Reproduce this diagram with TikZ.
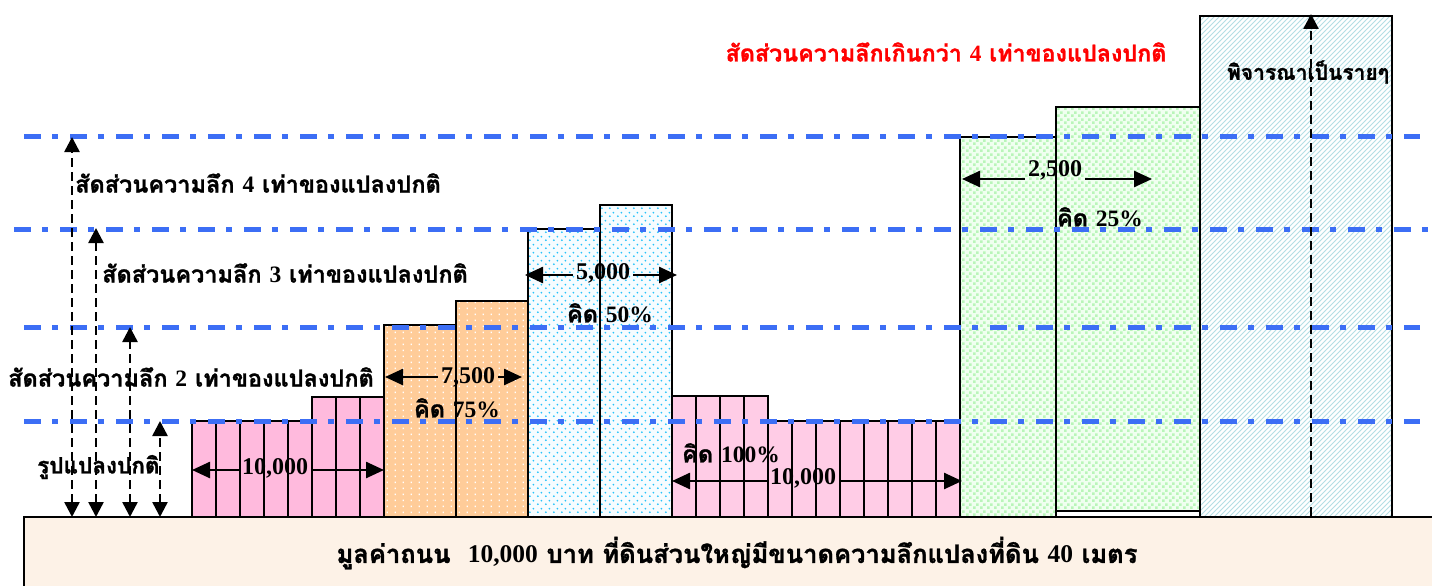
\documentclass[tikz,border=0pt]{standalone}
\usepackage{fontspec}
\setmainfont{Liberation Serif}
\newfontfamily\thaif[Script=Thai,BoldFeatures={FakeBold=1.2}]{Loma}
\usetikzlibrary{arrows.meta,patterns}
\definecolor{roadC}{RGB}{253,242,231}
\definecolor{pinkA}{RGB}{255,186,221}
\definecolor{pinkB}{RGB}{255,204,230}
\definecolor{orangeC}{RGB}{255,204,153}
\definecolor{cyanDot}{RGB}{40,195,250}
\definecolor{blueBg}{RGB}{246,252,255}
\definecolor{greenBg}{RGB}{240,255,240}
\definecolor{greenSq}{RGB}{185,245,185}
\definecolor{hatchC}{RGB}{180,222,228}
\definecolor{lineBlue}{RGB}{60,110,245}
\pgfdeclarepatternformonly{whitedots}{\pgfqpoint{0pt}{0pt}}{\pgfqpoint{8pt}{6pt}}{\pgfqpoint{8pt}{6pt}}{%
  \pgfpathrectangle{\pgfqpoint{3pt}{1pt}}{\pgfqpoint{1.4pt}{1.9pt}}\pgfusepath{fill}}
\pgfdeclarepatternformonly{cyandots}{\pgfqpoint{0pt}{0pt}}{\pgfqpoint{8pt}{8pt}}{\pgfqpoint{8pt}{8pt}}{%
  \pgfpathcircle{\pgfqpoint{2pt}{2pt}}{1.1pt}\pgfpathcircle{\pgfqpoint{6pt}{6pt}}{1.1pt}\pgfusepath{fill}}
\pgfdeclarepatternformonly{greensq}{\pgfqpoint{0pt}{0pt}}{\pgfqpoint{7pt}{7pt}}{\pgfqpoint{7pt}{7pt}}{%
  \pgfpathrectangle{\pgfqpoint{0pt}{0pt}}{\pgfqpoint{3pt}{3pt}}\pgfpathrectangle{\pgfqpoint{3.5pt}{3.5pt}}{\pgfqpoint{3pt}{3pt}}\pgfusepath{fill}}
\pgfdeclarepatternformonly{hatchne}{\pgfqpoint{-1pt}{-1pt}}{\pgfqpoint{6pt}{6pt}}{\pgfqpoint{5pt}{5pt}}{%
  \pgfsetlinewidth{0.9pt}\pgfpathmoveto{\pgfqpoint{0pt}{0pt}}\pgfpathlineto{\pgfqpoint{5.1pt}{5.1pt}}\pgfusepath{stroke}}
\newcommand\nf[1]{{\rmfamily #1}}
\begin{document}
\begin{tikzpicture}[x=1pt,y=-1pt,
  box/.style={draw=black,line width=1.8pt},
  pinkbox/.style={box,fill=pinkA},
  pinkbox2/.style={box,fill=pinkB},
  orbox/.style={box,preaction={fill=orangeC},pattern=whitedots,pattern color=white},
  bluebox/.style={box,preaction={fill=blueBg},pattern=cyandots,pattern color=cyanDot},
  greenbox/.style={box,preaction={fill=greenBg},pattern=greensq,pattern color=greenSq},
  hatchbox/.style={box,preaction={fill=white},pattern=hatchne,pattern color=hatchC},
  level/.style={draw=lineBlue,line width=5pt,dash pattern=on 17pt off 11pt on 5.5pt off 12.5pt},
  varr/.style={line width=2.5pt,dash pattern=on 9pt off 5pt,{Triangle[length=15pt,width=15pt]}-{Triangle[length=15pt,width=15pt]}},
  uparr/.style={line width=2.5pt,dash pattern=on 9pt off 5pt,-{Triangle[length=15pt,width=15pt]}},
  harr/.style={line width=2.5pt,-{Triangle[length=18pt,width=16pt]}},
  lbl/.style={font=\bfseries\thaif\fontsize{23.5}{25}\selectfont,inner sep=0pt},
  num/.style={font=\bfseries\rmfamily\fontsize{24}{26}\selectfont,inner sep=3pt},
]
\useasboundingbox (0,0) rectangle (1432,586);
% road
\fill[roadC] (24,517) rectangle (1440,590);
\draw[line width=2pt] (24,590) -- (24,517) -- (1432,517);
% left pink parcels
\foreach \i in {0,...,4} \draw[pinkbox] (192+24*\i,421) rectangle ++(24,96);
\foreach \i in {0,1,2} \draw[pinkbox] (312+24*\i,397) rectangle ++(24,120);
% orange
\path[orbox] (384,325) rectangle (456,517);
\path[orbox] (456,301) rectangle (528,517);
% blue
\path[bluebox] (528,229) rectangle (600,517);
\path[bluebox] (600,205) rectangle (672,517);
% right pink
\foreach \i in {0,...,3} \draw[pinkbox2] (672+24*\i,396) rectangle ++(24,121);
\foreach \i in {0,...,7} \draw[pinkbox2] (768+24*\i,421) rectangle ++(24,96);
% green
\path[greenbox] (960,137) rectangle (1056,517);
\path[greenbox] (1056,107) rectangle (1200,511);
% hatch
\path[hatchbox] (1200,16) rectangle (1392,517);
% level lines
\draw[level] (24,136) -- (1420,136);
\draw[level] (14,229) -- (1432,229);
\draw[level] (24,327) -- (1420,327);
\draw[level] (24,421) -- (1420,421);
% vertical arrows
\coordinate (v1t) at (72,137);  \coordinate (v1b) at (72,517);
\coordinate (v2t) at (96,228);  \coordinate (v2b) at (96,517);
\coordinate (v3t) at (130,327); \coordinate (v3b) at (130,517);
\coordinate (v4t) at (160,421); \coordinate (v4b) at (160,517);
\draw[varr] (v1b) -- (v1t);
\draw[varr] (v2b) -- (v2t);
\draw[varr] (v3b) -- (v3t);
\draw[varr] (v4b) -- (v4t);
\coordinate (v5t) at (1311,14); \coordinate (v5b) at (1311,516);
\draw[uparr] (v5b) -- (v5t);
% labels
\node[lbl,anchor=west] (L4) at (75,183) {สัดส่วนความลึก \nf{4} เท่าของแปลงปกติ};
\node[lbl,anchor=west] (L3) at (102,273) {สัดส่วนความลึก \nf{3} เท่าของแปลงปกติ};
\node[lbl,anchor=west] (L2) at (8,377) {สัดส่วนความลึก \nf{2} เท่าของแปลงปกติ};
\node[lbl,anchor=west,font=\bfseries\thaif\fontsize{22.5}{24}\selectfont] (L1) at (37,467) {รูปแปลงปกติ};
\node[lbl,text=red,font=\bfseries\thaif\fontsize{23.3}{25}\selectfont] (LR) at (946,52) {สัดส่วนความลึกเกินกว่า \nf{4} เท่าของแปลงปกติ};
\node[lbl,font=\bfseries\thaif\fontsize{21}{23}\selectfont] (LP) at (1308,72) {พิจารณาเป็นรายๆ};
\node[lbl,font=\bfseries\thaif\fontsize{25.5}{27}\selectfont] (LB) at (737,553) {มูลค่าถนน\ \ \nf{10,000} บาท ที่ดินส่วนใหญ่มีขนาดความลึกแปลงที่ดิน \nf{40} เมตร};
% width arrows
\node[num] (n1) at (275,468) {10,000};
\coordinate (a1l) at (192,470); \coordinate (a1r) at (384,470);
\draw[harr] (n1.west|-a1l) -- (a1l);
\draw[harr] (n1.east|-a1r) -- (a1r);
\node[num] (n2) at (468,377) {7,500};
\coordinate (a2l) at (385,377); \coordinate (a2r) at (522,377);
\draw[harr] (n2.west|-a2l) -- (a2l);
\draw[harr] (n2.east|-a2r) -- (a2r);
\node[lbl] (k2) at (457,408) {คิด \nf{75\%}};
\node[num] (n3) at (603,273) {5,000};
\coordinate (a3l) at (525,275); \coordinate (a3r) at (677,275);
\draw[harr] (n3.west|-a3l) -- (a3l);
\draw[harr] (n3.east|-a3r) -- (a3r);
\node[lbl] (k3) at (610,313) {คิด \nf{50\%}};
\node[num] (n4) at (803,478) {10,000};
\coordinate (a4l) at (672,481); \coordinate (a4r) at (962,481);
\draw[harr] (n4.west|-a4l) -- (a4l);
\draw[harr] (n4.east|-a4r) -- (a4r);
\node[lbl] (k4) at (731,453) {คิด \nf{100\%}};
\node[num] (n5) at (1055,170) {2,500};
\coordinate (a5l) at (962,179); \coordinate (a5r) at (1152,179);
\draw[harr] (n5.west|-a5l) -- (a5l);
\draw[harr] (n5.east|-a5r) -- (a5r);
\node[lbl] (k5) at (1100,217) {คิด \nf{25\%}};
\end{tikzpicture}
\end{document}
